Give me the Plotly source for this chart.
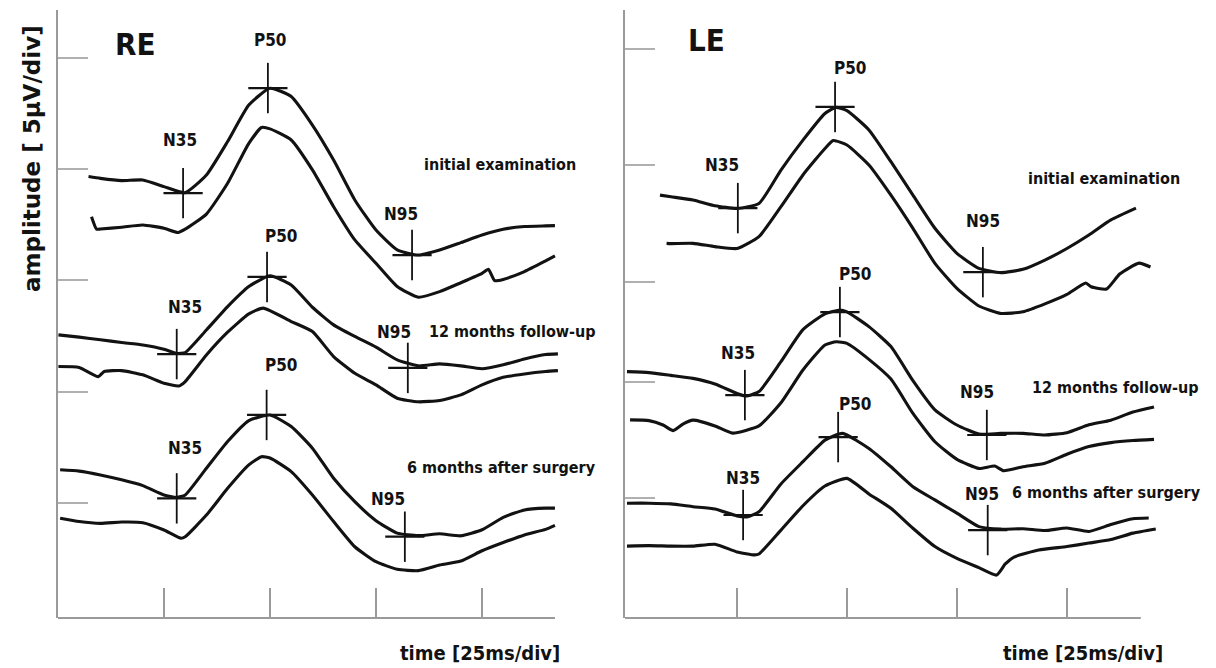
import plotly.graph_objects as go

# ---------------- data (time in ms, amplitude in µV) ----------------
# RE panel
re_init_up_t = [7.2, 10, 15, 20, 25, 30, 35, 40, 45, 50, 55, 60, 65, 70, 75, 80, 85, 90, 95, 100, 105, 110, 115, 117.2]
re_init_up_v = [19.66, 19.58, 19.48, 19.51, 19.21, 18.94, 19.73, 21.23, 22.87, 23.62, 23.25, 21.97, 20.40, 18.61, 17.26, 16.37, 16.14, 16.37, 16.70, 17.04, 17.30, 17.42, 17.45, 17.46]
re_init_lo_t = [7.9, 9.1, 10, 15, 20, 25, 28.3, 30, 35, 40, 45, 48, 50, 55, 60, 65, 70, 75, 80, 85, 90, 95, 100, 101.5, 103, 105, 110, 115, 117.2]
re_init_lo_v = [17.86, 17.30, 17.31, 17.39, 17.49, 17.34, 17.15, 17.30, 17.98, 19.36, 21.15, 21.86, 21.80, 21.30, 19.96, 18.31, 16.82, 15.77, 14.73, 14.25, 14.50, 14.90, 15.32, 15.50, 14.99, 15.05, 15.40, 15.88, 16.10]
re_12_up_t = [0.1, 5, 10, 15, 20, 25, 28, 30, 35, 40, 45, 50, 55, 60, 65, 70, 75, 80, 85, 90, 95, 100, 105, 110, 115, 117.9]
re_12_up_v = [12.56, 12.46, 12.34, 12.22, 12.11, 11.92, 11.73, 11.77, 12.78, 13.83, 14.73, 15.21, 14.80, 13.80, 13.01, 12.49, 12.01, 11.44, 11.17, 11.26, 11.17, 11.04, 11.22, 11.48, 11.68, 11.71]
re_12_lo_t = [0.1, 5, 9.5, 10.9, 15, 20, 25, 28.5, 30, 35, 40, 45, 48.4, 55, 60, 65, 70, 75, 80, 85, 90, 95, 100, 105, 110, 115, 117.9]
re_12_lo_v = [11.14, 11.10, 10.69, 10.92, 10.96, 10.77, 10.39, 10.27, 10.47, 11.66, 12.68, 13.50, 13.76, 13.16, 12.71, 11.59, 10.84, 10.32, 9.72, 9.56, 9.62, 9.87, 10.32, 10.66, 10.81, 10.92, 10.96]
re_6_up_t = [0.5, 5, 10, 15, 20, 25, 28, 30, 35, 40, 45, 50, 55, 60, 65, 70, 75, 80, 85, 90, 95, 100, 105, 110, 115, 117.2]
re_6_up_v = [6.51, 6.45, 6.28, 6.06, 5.80, 5.38, 5.27, 5.38, 6.58, 7.78, 8.72, 8.97, 8.45, 7.48, 6.13, 5.08, 4.23, 3.67, 3.56, 3.64, 3.55, 3.82, 4.38, 4.71, 4.79, 4.79]
re_6_lo_t = [0.5, 5, 10, 15, 20, 25, 29, 30, 35, 40, 45, 48, 50, 55, 60, 65, 70, 75, 80, 85, 90, 95, 100, 105, 110, 115, 117.2]
re_6_lo_v = [4.34, 4.19, 4.11, 4.17, 4.14, 3.81, 3.44, 3.51, 4.48, 5.68, 6.73, 7.10, 7.04, 6.43, 5.38, 4.19, 3.06, 2.39, 2.05, 1.99, 2.24, 2.42, 2.88, 3.25, 3.59, 3.84, 4.02]
re_peak_t = [29.5, 49.5, 83.5, 28.0, 49.3, 82.5, 28.0, 49.2, 81.8]
re_peak_v = [18.92, 23.63, 16.14, 11.70, 15.16, 11.08, 5.23, 8.97, 3.51]

# LE panel
le_init_up_t = [7.5, 10, 15, 20, 25, 30, 35, 40, 45, 47.5, 50, 55, 60, 65, 70, 75, 80, 85, 90, 95, 100, 105, 110, 115.7]
le_init_up_v = [18.10, 18.03, 17.89, 17.64, 17.53, 17.74, 19.18, 20.47, 21.62, 21.88, 21.74, 20.91, 19.54, 18.10, 16.67, 15.59, 14.94, 14.76, 14.90, 15.30, 15.80, 16.38, 17.03, 17.54]
le_init_lo_t = [9, 10, 15, 20, 25, 30, 35, 40, 45, 46.9, 50, 55, 60, 65, 70, 75, 80, 85, 90, 95, 100, 104.3, 105.5, 109, 112, 116.4, 119]
le_init_lo_v = [16.02, 16.01, 16.02, 15.88, 15.80, 16.31, 17.60, 18.97, 20.11, 20.45, 20.26, 19.40, 18.10, 16.67, 15.16, 14.08, 13.32, 13.00, 13.07, 13.41, 13.82, 14.31, 14.15, 14.05, 14.70, 15.17, 15.00]
le_12_up_t = [0, 5, 10, 15, 20, 25, 27, 30, 35, 40, 45, 48.4, 50, 55, 60, 65, 70, 75, 80, 85, 90, 95, 100, 105, 110, 115, 119.8]
le_12_up_v = [10.49, 10.45, 10.33, 10.20, 9.96, 9.55, 9.44, 9.63, 10.92, 12.30, 12.98, 13.15, 13.07, 12.43, 11.57, 10.10, 8.84, 8.19, 7.80, 7.83, 7.83, 7.76, 7.86, 8.20, 8.40, 8.75, 8.97]
le_12_lo_t = [0.7, 5, 8.2, 10.5, 12.8, 15, 20, 24, 30, 35, 40, 45, 47.6, 50, 55, 60, 65, 70, 75, 80, 83.6, 85.6, 90, 95, 100, 105, 110, 115, 119.8]
le_12_lo_v = [8.41, 8.38, 8.19, 7.95, 8.24, 8.40, 8.15, 7.84, 8.15, 9.15, 10.56, 11.64, 11.78, 11.71, 11.02, 10.17, 8.69, 7.47, 6.71, 6.32, 6.42, 6.22, 6.39, 6.54, 6.93, 7.26, 7.43, 7.52, 7.57]
le_6_up_t = [0, 5, 10, 15, 20, 25, 27.5, 30, 35, 40, 45, 49, 55, 60, 65, 70, 75, 80, 85, 90, 95, 100, 105, 110, 115, 118.6]
le_6_up_v = [4.82, 4.82, 4.79, 4.67, 4.57, 4.27, 4.24, 4.45, 5.65, 6.61, 7.54, 7.83, 7.18, 6.39, 5.53, 4.96, 4.39, 3.81, 3.70, 3.72, 3.64, 3.75, 3.60, 3.90, 4.15, 4.18]
le_6_lo_t = [0, 5, 10, 15, 20, 25, 29, 30, 35, 40, 45, 50, 55, 60, 65, 70, 75, 80, 84, 86, 88, 93.6, 100, 105, 110, 115, 120.2]
le_6_lo_v = [2.97, 2.99, 2.97, 2.97, 3.05, 2.72, 2.59, 2.63, 3.66, 4.71, 5.56, 5.89, 5.22, 4.60, 3.74, 2.95, 2.44, 2.04, 1.72, 2.20, 2.50, 2.80, 2.95, 3.10, 3.25, 3.53, 3.71]
le_peak_t = [25.2, 47.3, 80.9, 26.8, 48.4, 81.8, 26.4, 48.0, 82.0]
le_peak_v = [17.54, 21.9, 14.78, 9.48, 13.06, 7.76, 4.31, 7.67, 3.66]

time_ticks = [25, 50, 75, 100]
re_amp_ticks = [5, 10, 15, 20, 25]
le_amp_ticks = [5.04, 10.04, 14.35, 19.4, 24.4]

# ---------------- figure ----------------
W, H = 1216, 668
INK = "#121212"
AX = "#9a9a9a"
LBL = "DejaVu Sans Condensed, DejaVu Sans, sans-serif"

fig = go.Figure()
line_style = dict(color=INK, width=3.1, shape="spline", smoothing=0.5)

re_traces = [(re_init_up_t, re_init_up_v), (re_init_lo_t, re_init_lo_v),
             (re_12_up_t, re_12_up_v), (re_12_lo_t, re_12_lo_v),
             (re_6_up_t, re_6_up_v), (re_6_lo_t, re_6_lo_v)]
le_traces = [(le_init_up_t, le_init_up_v), (le_init_lo_t, le_init_lo_v),
             (le_12_up_t, le_12_up_v), (le_12_lo_t, le_12_lo_v),
             (le_6_up_t, le_6_up_v), (le_6_lo_t, le_6_lo_v)]

for (tt, vv) in re_traces:
    fig.add_trace(go.Scatter(x=tt, y=vv, mode="lines", line=line_style,
                             xaxis="x", yaxis="y", showlegend=False, hoverinfo="skip"))
for (tt, vv) in le_traces:
    fig.add_trace(go.Scatter(x=tt, y=vv, mode="lines", line=line_style,
                             xaxis="x2", yaxis="y2", showlegend=False, hoverinfo="skip"))

for (pt, pv, xa, ya) in [(re_peak_t, re_peak_v, "x", "y"), (le_peak_t, le_peak_v, "x2", "y2")]:
    fig.add_trace(go.Scatter(x=pt, y=pv, mode="markers", xaxis=xa, yaxis=ya,
                             marker=dict(symbol="line-ns", size=36, line=dict(color=INK, width=1.8)),
                             showlegend=False, hoverinfo="skip"))
    fig.add_trace(go.Scatter(x=pt, y=pv, mode="markers", xaxis=xa, yaxis=ya,
                             marker=dict(symbol="line-ew", size=28, line=dict(color=INK, width=2.2)),
                             showlegend=False, hoverinfo="skip"))

common_x = dict(showgrid=False, zeroline=False, showline=False, ticks="inside", ticklen=30,
                tickwidth=1.5, tickcolor=AX, tickvals=time_ticks, showticklabels=False,
                fixedrange=True)
common_y = dict(showgrid=False, zeroline=False, showline=True, linecolor=AX, linewidth=2,
                ticks="inside", ticklen=30, tickwidth=2, tickcolor="#b0b0b0",
                showticklabels=False, fixedrange=True)

ydom = [1 - 618 / H, 1 - 10 / H]
fig.update_layout(
    width=W, height=H,
    margin=dict(l=0, r=0, t=0, b=0),
    paper_bgcolor="white", plot_bgcolor="white",
    xaxis=dict(domain=[58 / W, 570 / W], range=[0, 120.75], anchor="y", **common_x),
    yaxis=dict(domain=ydom, range=[-0.135, 27.13], anchor="x", tickvals=re_amp_ticks, **common_y),
    xaxis2=dict(domain=[625 / W, 1165 / W], range=[-0.45, 122.3], anchor="y2", **common_x),
    yaxis2=dict(domain=ydom, range=[-0.129, 26.08], anchor="x2", tickvals=le_amp_ticks, **common_y),
)

# x-axis base lines
fig.add_shape(type="line", xref="x", yref="y domain", x0=0, x1=117.2, y0=0, y1=0,
              line=dict(color=AX, width=2))
fig.add_shape(type="line", xref="x2", yref="y2 domain", x0=-0.45, x1=116.8, y0=0, y1=0,
              line=dict(color=AX, width=2))


def label(text, x, y, xa, ya, size=17):
    fig.add_annotation(text="<b>%s</b>" % text, x=x, y=y, xref=xa, yref=ya, showarrow=False,
                       font=dict(family=LBL, size=size, color=INK), xanchor="center", yanchor="middle")


# RE labels
label("RE", 18.2, 25.6, "x", "y", 31)
label("P50", 50.2, 25.8, "x", "y")
label("N35", 28.8, 21.3, "x", "y")
label("initial examination", 104.2, 20.2, "x", "y", 16)
label("N95", 80.9, 18.0, "x", "y")
label("P50", 52.8, 17.0, "x", "y")
label("N35", 30.0, 13.8, "x", "y")
label("N95", 79.2, 12.7, "x", "y")
label("12 months follow-up", 107.3, 12.7, "x", "y", 16)
label("P50", 52.8, 11.2, "x", "y")
label("N35", 30.0, 7.5, "x", "y")
label("N95", 77.8, 5.2, "x", "y")
label("6 months after surgery", 104.5, 6.6, "x", "y", 16)

# LE labels
label("LE", 18.0, 24.8, "x2", "y2", 31)
label("P50", 50.7, 23.6, "x2", "y2")
label("N35", 21.6, 19.4, "x2", "y2")
label("initial examination", 108.4, 18.8, "x2", "y2", 16)
label("N95", 80.9, 17.0, "x2", "y2")
label("P50", 52.0, 14.7, "x2", "y2")
label("N35", 25.2, 11.3, "x2", "y2")
label("N95", 79.5, 9.6, "x2", "y2")
label("12 months follow-up", 111.1, 9.8, "x2", "y2", 16)
label("P50", 52.0, 9.1, "x2", "y2")
label("N35", 26.4, 5.9, "x2", "y2")
label("N95", 80.7, 5.2, "x2", "y2")
label("6 months after surgery", 108.9, 5.3, "x2", "y2", 16)

# axis titles
for xc in [480 / W, 1083 / W]:
    fig.add_annotation(text="<b>time [25ms/div]</b>", x=xc, y=1 - 653 / H, xref="paper", yref="paper",
                       showarrow=False, font=dict(family=LBL, size=20, color=INK),
                       xanchor="center", yanchor="middle")
fig.add_annotation(text="<b>amplitude [ 5µV/div]</b>", x=32 / W, y=1 - 159 / H, xref="paper", yref="paper",
                   showarrow=False, textangle=-90,
                   font=dict(family="DejaVu Sans, Arial, sans-serif", size=23, color=INK),
                   xanchor="center", yanchor="middle")

fig.write_html("out.html", config={"displayModeBar": False},
               post_script="document.body.style.margin='0';document.body.style.overflow='hidden';")
